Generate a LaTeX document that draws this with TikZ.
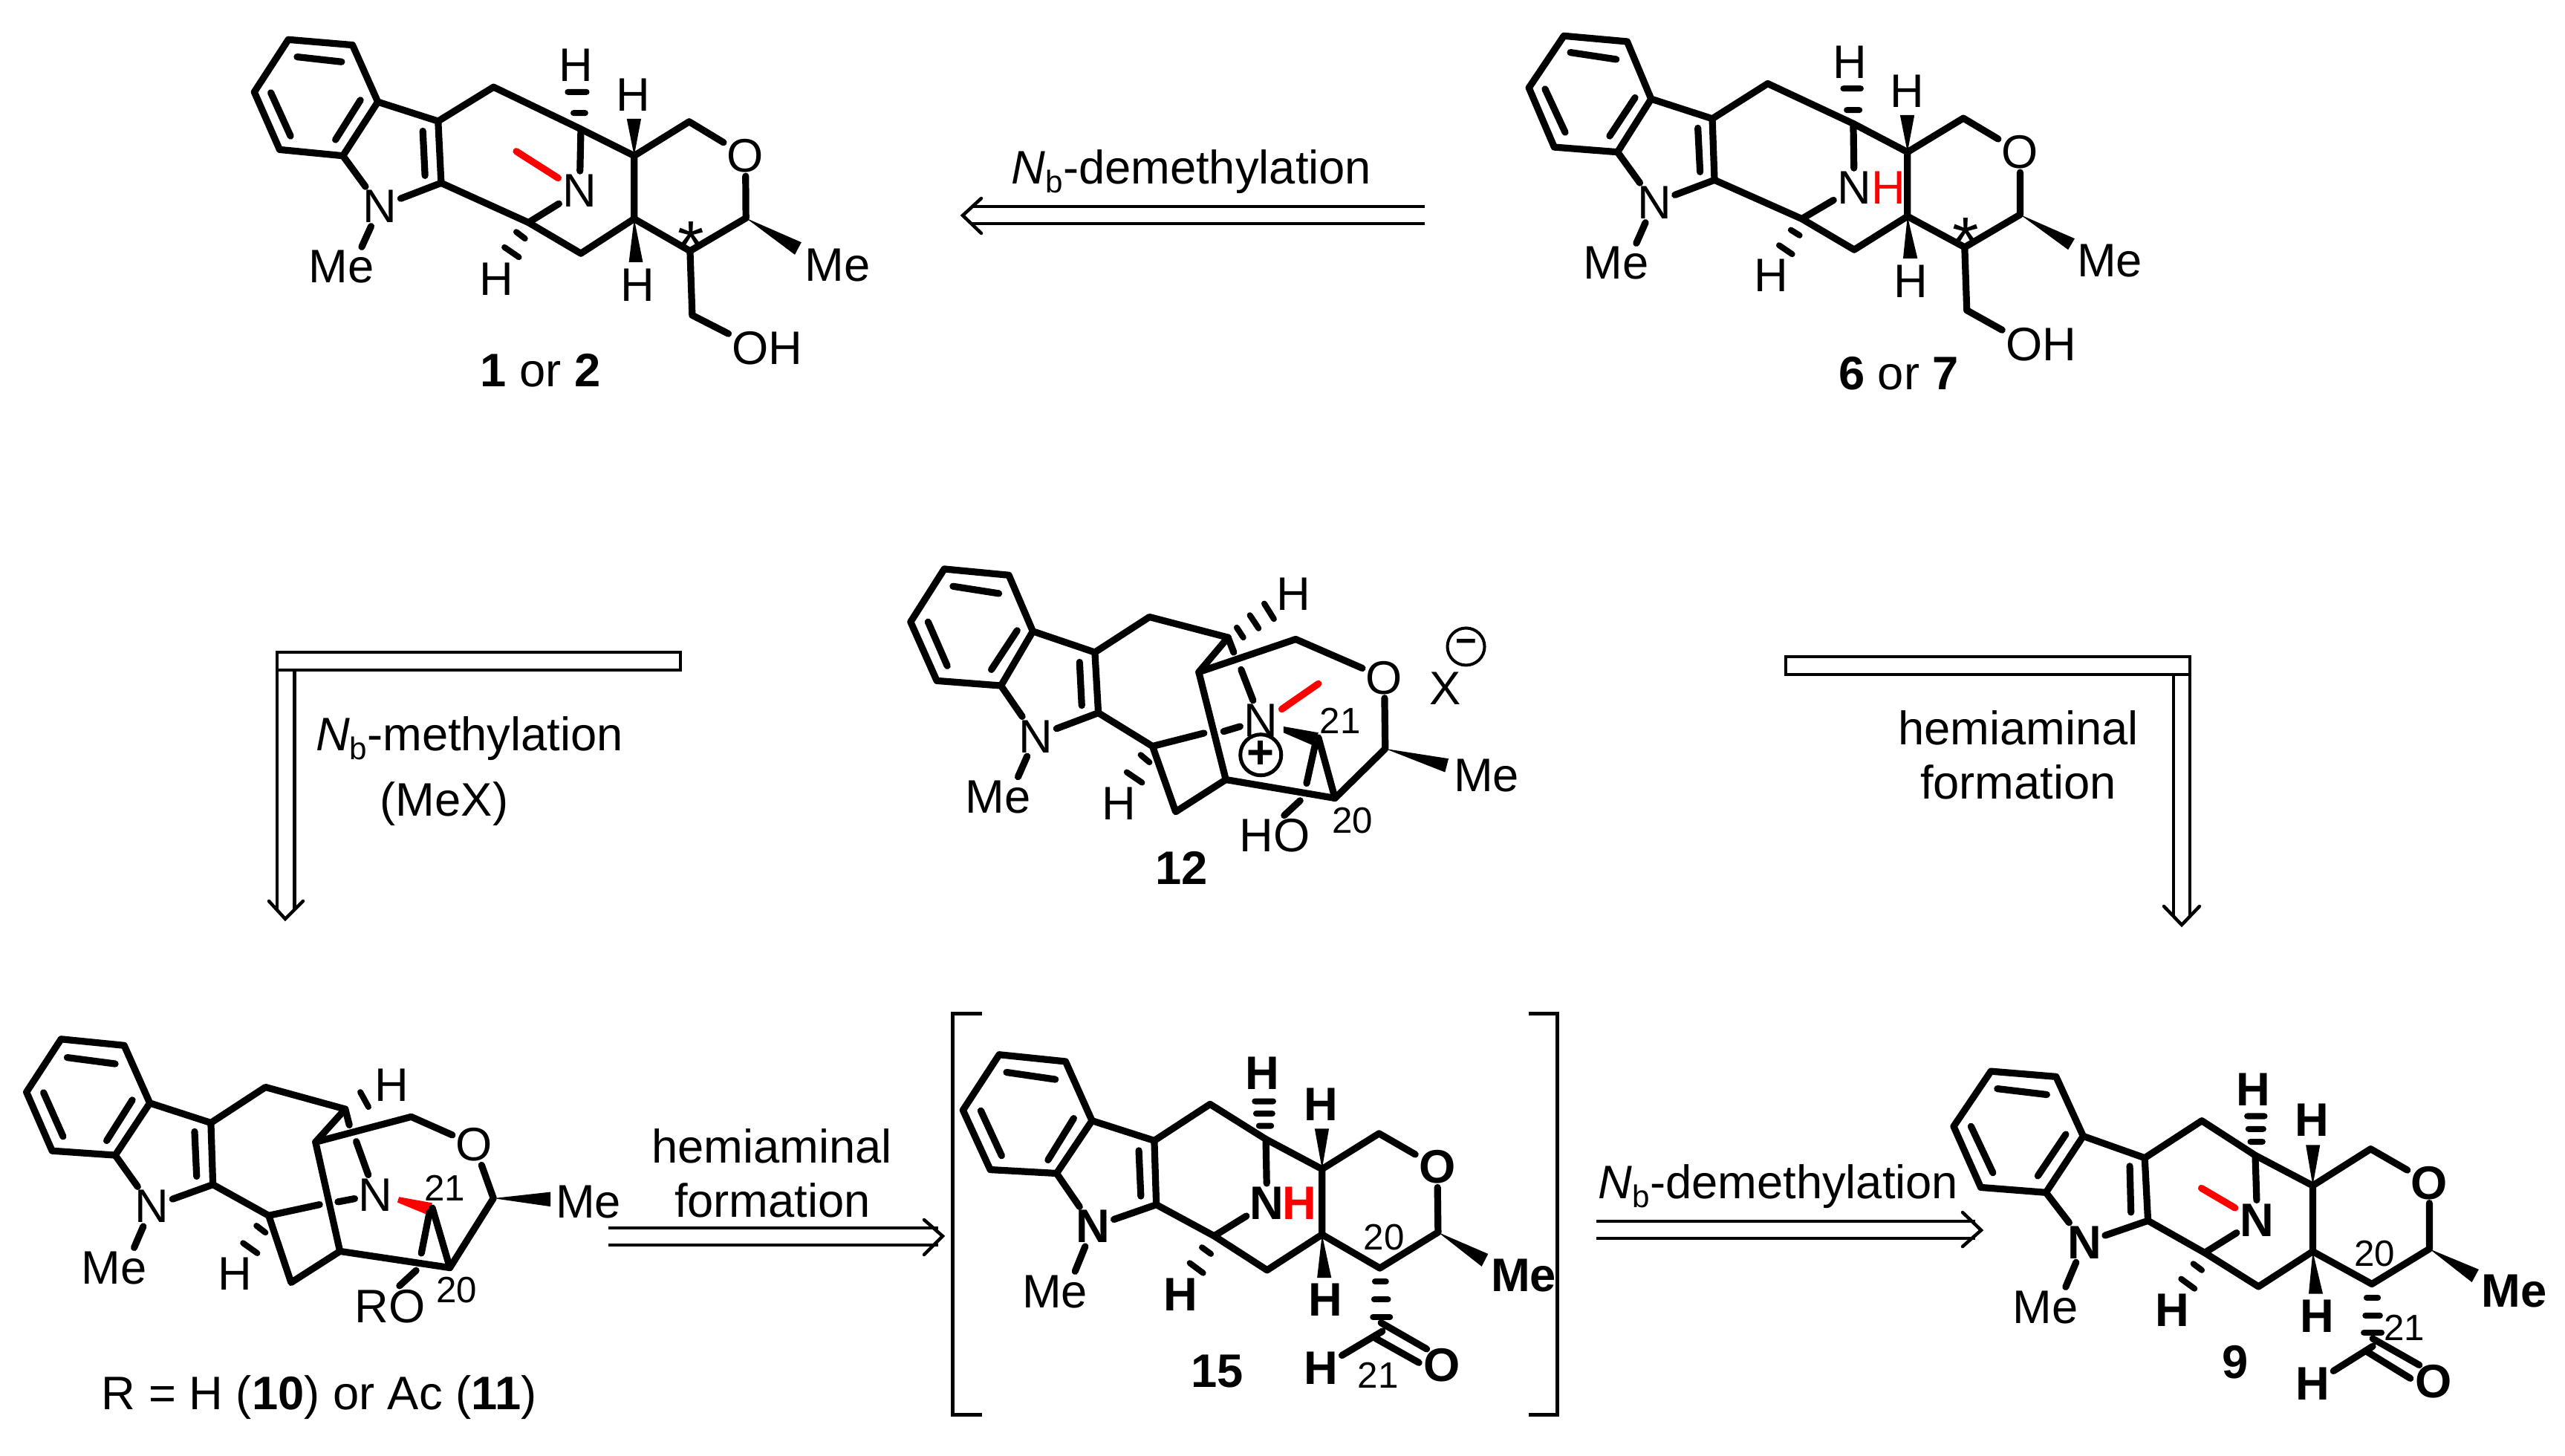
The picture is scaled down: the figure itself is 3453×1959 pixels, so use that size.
\documentclass[tikz,border=0pt]{standalone}
\usepackage{fontspec}
\setmainfont{Liberation Sans}
\newcommand{\subb}{\raisebox{-0.2em}{\fontsize{12}{12}\selectfont b}}
\tikzset{
bond/.style={line width=0.092cm,line cap=round,line join=round},
hashbar/.style={line width=0.08cm,line cap=round},
wedge/.style={fill=black,draw=none},
retro/.style={line width=0.045cm,line join=miter},
retrohead/.style={line width=0.045cm,line join=miter,line cap=round},
atom/.style={font=\fontsize{18}{20}\selectfont,inner sep=0pt,outer sep=0.05cm},
boldatom/.style={atom,font=\fontsize{18}{20}\selectfont\bfseries},
locant/.style={font=\fontsize{14}{16}\selectfont,inner sep=0pt},
starmark/.style={font=\fontsize{26}{26}\selectfont,inner sep=0pt,yshift=-1.9mm},
cmpd/.style={font=\fontsize{18}{20}\selectfont,inner sep=0pt},
rxn/.style={font=\fontsize{18}{20}\selectfont,inner sep=0pt,anchor=base},
mol/.style={shift={(#1)},x=0.005869cm,y=-0.003333cm},
molb/.style={shift={(#1)},x=0.005485cm,y=-0.0037cm},
mold/.style={shift={(#1)},x=0.005485cm,y=-0.003827cm},
molc/.style={shift={(#1)},x=0.00544cm,y=-0.003444cm},
}
\begin{document}
\begin{tikzpicture}[x=0.01cm,y=-0.01cm]
\useasboundingbox(0,0)rectangle(3453,1959);
\begin{scope}[mol={300,20}]
\node[atom](n1a)at(360,775){N};\node[atom](nba)at(817,712){N};\node[atom](oa)at(1197,570){O};
\node[atom](me1a)at(272,1020){Me};\node[atom](me2a)at(1408,1012){Me};\node[atom](oha)at(1247,1347){OH};
\node[atom](h1a)at(808,203){H};\node[atom](h2a)at(940,325){H};\node[atom](h3a)at(950,1093){H};\node[atom](h4a)at(627,1070){H};
\node[starmark](stara)at(1072,873){*};
\node[cmpd](cmpda)at(727,1437){\textbf{1} or \textbf{2}};
\draw[bond](150,100)--(297,122)--(355,352)--(275,570)--(130,545)--(72,312)--cycle;
\draw[bond](170,170)--(272,190)(110,315)--(155,490)(315,345)--(258,505);
\draw[bond](355,352)--(493,430)--(620,292)--(820,462)--(942,570)--(1068,432)--(oa);
\draw[bond](493,430)--(500,680)(458,470)--(463,650);
\draw[bond](275,570)--(n1a)(500,680)--(n1a)(n1a)--(me1a.45);
\draw[bond](500,680)--(700,840)--(820,965)--(942,825)--(1070,955)--(1198,822)--(oa);
\draw[bond](942,570)--(942,825)(820,462)--(nba)(700,840)--(nba);
\draw[bond,red](672,552)--(768,660);
\draw[bond](1070,955)--(1075,1215)--(oha.160);
\fill[wedge](942,570)--(925,420)--(958,420)--cycle(942,825)--(930,1000)--(962,1000)--cycle(1198,822)--(1325,920)--(1310,970)--cycle;
\draw[hashbar](803,397)--(830,397)(790,312)--(833,312)(672,878)--(692,905)(645,940)--(678,980);
\end{scope}
\begin{scope}[mol={2020,20}]
\node[atom](n1b)at(352,760){N};\node[atom](nbb)at(810,700){N};\node[atom,text=red,anchor=center](hnb)at(888,700){H};\node[atom](ob)at(1190,555){O};
\node[atom](me1b)at(265,1005){Me};\node[atom](me2b)at(1395,995){Me};\node[atom](ohb)at(1238,1332){OH};
\node[atom](h1b)at(800,190){H};\node[atom](h2b)at(932,310){H};\node[atom](h3b)at(940,1078){H};\node[atom](h4b)at(620,1053){H};
\node[starmark](starb)at(1065,860){*};
\node[cmpd](cmpdb)at(912,1450){\textbf{6} or \textbf{7}};
\draw[bond](145,85)--(290,108)--(345,340)--(268,555)--(123,535)--(65,295)--cycle;
\draw[bond](160,152)--(265,180)(102,300)--(148,475)(308,335)--(250,490);
\draw[bond](345,340)--(485,420)--(612,278)--(808,440)--(932,555)--(1060,418)--(ob);
\draw[bond](485,420)--(490,668)(452,458)--(457,635);
\draw[bond](268,555)--(n1b)(490,668)--(n1b)(n1b)--(me1b.45);
\draw[bond](490,668)--(690,825)--(810,950)--(932,815)--(1063,940)--(1190,808)--(ob);
\draw[bond](932,555)--(932,815)(808,440)--(nbb)(690,825)--(nbb);
\draw[bond](1063,940)--(1068,1195)--(ohb.160);
\fill[wedge](932,555)--(915,405)--(948,405)--cycle(932,815)--(922,985)--(955,985)--cycle(1190,808)--(1315,905)--(1300,950)--cycle;
\draw[hashbar](793,385)--(822,385)(785,298)--(825,298)(665,870)--(685,892)(638,932)--(668,968);
\end{scope}
\begin{scope}[mol={1180,730}]
\node[atom](n1c)at(365,785){N};\node[atom](nbc)at(880,720){N};\node[atom](oc)at(1163,548){O};
\node[atom](me1c)at(278,1030){Me};\node[atom](me2c)at(1397,945){Me};\node[atom](hoc)at(912,1187){HO};
\node[atom](xc)at(1302,590){X};\node[atom](h1c)at(955,208){H};\node[atom](h2c)at(556,1058){H};
\node[circle,draw,line width=0.05cm,minimum size=0.55cm,inner sep=0pt,font=\fontsize{18}{20}\selectfont\bfseries](plusc)at(880,860){+};
\node[circle,draw,line width=0.04cm,minimum size=0.5cm,inner sep=0pt,font=\fontsize{14}{16}\selectfont\bfseries](minusc)at(1350,422){\symbol{"2212}};
\node[locant](l21c)at(1062,722){21};\node[locant](l20c)at(1090,1125){20};
\node[cmpd,font=\fontsize{18}{20}\selectfont\bfseries](cmpdc)at(698,1318){12};
\draw[bond](155,108)--(303,133)--(358,360)--(285,580)--(138,560)--(78,322)--cycle;
\draw[bond](175,178)--(280,207)(118,322)--(162,500)(322,357)--(263,515);
\draw[bond](358,360)--(500,445)--(625,302)--(805,385)--(738,525)--(960,392)--(oc);
\draw[bond](738,525)--(800,960)--(1050,1035)--(1165,835)--(oc);
\draw[bond](500,445)--(508,690)(465,485)--(470,660);
\draw[bond](285,580)--(n1c)(508,690)--(n1c)(n1c)--(me1c.45);
\draw[bond](508,690)--(632,825)--(750,772)(795,765)--(nbc);
\draw[bond](632,825)--(685,1090)--(800,960);
\draw[bond](805,385)--(818,445)(835,515)--(nbc);
\draw[bond,red](1012,572)--(928,675);
\fill[wedge](932,745)--(1012,770)--(1000,822)--(932,770)--cycle(1165,835)--(1310,875)--(1302,930)--cycle;
\draw[bond](1012,790)--(1050,1035)(1005,815)--(985,975);
\draw[bond](970,1045)--(hoc.65);
\draw[hashbar](825,345)--(840,385)(855,295)--(875,348)(888,248)--(910,310)(605,860)--(625,890)(573,930)--(608,972);
\end{scope}
\begin{scope}[molb={0,1360}]
\node[atom](n1d)at(373,715){N};\node[atom](nbd)at(922,672){N};\node[atom](od)at(1165,490){O};
\node[atom](me1d)at(280,938){Me};\node[atom](me2d)at(1445,698){Me};\node[atom](rod)at(958,1078){RO};
\node[atom](h1d)at(962,273){H};\node[atom](h2d)at(577,960){H};
\node[locant](l21d)at(1092,648){21};\node[locant](l20d)at(1122,1020){20};
\node[cmpd](cmpdd)at(784,1411){R = H (\textbf{10}) or Ac (\textbf{11})};
\draw[bond](150,105)--(305,128)--(368,338)--(283,528)--(128,512)--(65,298)--cycle;
\draw[bond](165,172)--(283,195)(107,300)--(155,460)(325,327)--(262,475);
\draw[bond](368,338)--(518,410)--(652,280)--(848,360)--(775,480)--(1010,388)--(od);
\draw[bond](775,480)--(835,878)--(1105,938)--(1212,685)--(od);
\draw[bond](518,410)--(523,635)(478,442)--(483,605);
\draw[bond](283,528)--(n1d)(523,635)--(n1d)(n1d)--(me1d.45);
\draw[bond](523,635)--(660,748)--(785,708)(830,698)--(nbd);
\draw[bond](660,748)--(715,992)--(835,878);
\draw[bond](848,360)--(858,418)(875,478)--(nbd);
\fill[red](980,680)--(1062,702)--(1050,745)--(976,700)--cycle;
\fill[wedge](1212,685)--(1352,662)--(1352,715)--cycle;
\draw[bond](1062,720)--(1105,938)(1055,735)--(1035,885);
\draw[bond](1022,948)--(rod.65);
\draw[hashbar](885,298)--(905,352)(630,785)--(652,810)(597,848)--(632,885);
\end{scope}
\begin{scope}[mold={1270,1340}]
\node[boldatom](n1e)at(368,812){N};\node[boldatom](nbe)at(795,730){N};\node[boldatom,text=red](hne)at(875,730){H};\node[boldatom](oe)at(1213,603){O};
\node[atom](me1e)at(274,1040){Me};\node[boldatom](me2e)at(1425,985){Me};\node[boldatom](ocho)at(1225,1300){O};\node[boldatom](hcho)at(928,1308){H};
\node[boldatom](h1e)at(783,272){H};\node[boldatom](h2e)at(928,382){H};\node[boldatom](h3e)at(938,1070){H};\node[boldatom](h4e)at(583,1050){H};
\node[locant](l20e)at(1082,850){20};\node[locant](l21e)at(1068,1335){21};
\node[cmpd,font=\fontsize{18}{20}\selectfont\bfseries](cmpde)at(672,1320){15};
\draw[line width=0.05cm](95,65)--(22,65)--(22,1472)--(95,1472)(1437,65)--(1508,65)--(1508,1472)--(1437,1472);
\draw[bond](137,208)--(300,232)--(365,440)--(278,625)--(115,612)--(48,403)--cycle;
\draw[bond](155,270)--(275,295)(92,405)--(143,563)(320,432)--(257,578);
\draw[bond](365,440)--(518,510)--(655,382)--(792,505)--(930,610)--(1070,485)--(oe);
\draw[bond](518,510)--(523,735)(480,545)--(485,705);
\draw[bond](278,625)--(n1e)(523,735)--(n1e)(n1e)--(me1e.45);
\draw[bond](523,735)--(665,845)--(795,965)--(930,840)--(1072,958)--(1215,832)--(oe);
\draw[bond](930,610)--(930,840)(792,505)--(nbe)(665,845)--(nbe);
\fill[wedge](930,610)--(912,468)--(947,468)--cycle(930,840)--(918,992)--(953,992)--cycle(1215,832)--(1338,908)--(1322,952)--cycle;
\draw[hashbar](775,458)--(805,458)(768,415)--(808,415)(765,372)--(810,372)(635,885)--(657,908)(605,940)--(638,975);
\draw[hashbar](1060,1005)--(1087,1005)(1058,1068)--(1092,1068)(1055,1130)--(1097,1130);
\draw[bond](1078,1180)--(hcho)(1062,1205)--(1168,1290)(1075,1150)--(1187,1242);
\end{scope}
\begin{scope}[molc={2600,1400}]
\node[boldatom](n1f)at(378,790){N};\node[boldatom](nbf)at(805,702){N};\node[boldatom](of)at(1230,557){O};
\node[atom](me1f)at(282,1042){Me};\node[boldatom](me2f)at(1440,980){Me};\node[boldatom](ochof)at(1240,1332){O};\node[boldatom](hchof)at(942,1342){H};
\node[boldatom](h1f)at(795,192){H};\node[boldatom](h2f)at(940,313){H};\node[boldatom](h3f)at(952,1078){H};\node[boldatom](h4f)at(595,1055){H};
\node[locant](l20f)at(1095,832){20};\node[locant](l21f)at(1168,1122){21};
\node[cmpd,font=\fontsize{18}{20}\selectfont\bfseries](cmpdf)at(750,1257){9};
\draw[bond](147,122)--(308,143)--(375,375)--(283,595)--(122,575)--(55,337)--cycle;
\draw[bond](163,190)--(285,213)(98,337)--(152,518)(332,368)--(263,530);
\draw[bond](375,375)--(527,460)--(668,315)--(800,450)--(942,568)--(1085,425)--(of);
\draw[bond](527,460)--(535,705)(490,492)--(493,672);
\draw[bond](283,595)--(n1f)(535,705)--(n1f)(n1f)--(me1f.45);
\draw[bond](535,705)--(675,830)--(808,962)--(942,825)--(1088,952)--(1230,815)--(of);
\draw[bond](942,568)--(942,825)(800,450)--(nbf)(675,830)--(nbf);
\draw[bond,red](667,578)--(750,655);
\fill[wedge](942,568)--(925,410)--(960,410)--cycle(942,825)--(932,990)--(967,990)--cycle(1230,815)--(1352,895)--(1335,945)--cycle;
\draw[hashbar](788,397)--(818,397)(783,347)--(820,347)(780,297)--(823,297)(647,873)--(668,898)(617,932)--(650,970);
\draw[hashbar](1075,1005)--(1103,1005)(1072,1075)--(1108,1075)(1068,1142)--(1112,1142);
\draw[bond](1090,1195)--(hchof)(1075,1215)--(1183,1320)(1090,1165)--(1205,1268);
\end{scope}
\draw[retro](1918,278)--(1309,278)(1918,301)--(1309,301);
\draw[retrohead](1321,267)--(1296,290)--(1321,314);
\node[rxn](rxna)at(1604,247){{\itshape N}\subb-demethylation};
\draw[retro](916,878)rectangle(373,902)(373,902)--(373,1225)(396.5,902)--(396.5,1225);
\draw[retrohead](362,1213)--(384,1237)--(408,1213);
\node[rxn](rxnb)at(632,1010){{\itshape N}\subb-methylation};
\node[rxn](rxnc)at(598,1098){(MeX)};
\draw[retro](2404,884)rectangle(2948,908)(2926,908)--(2926,1235)(2948,908)--(2948,1235);
\draw[retrohead](2913,1220)--(2937,1245)--(2961,1220);
\node[rxn](rxnd)at(2717,1002){hemiaminal};
\node[rxn](rxne)at(2717,1075){formation};
\draw[retro](819,1653)--(1263,1653)(819,1676)--(1263,1676);
\draw[retrohead](1244,1642)--(1269,1664)--(1244,1689);
\node[rxn](rxnf)at(1039,1565){hemiaminal};
\node[rxn](rxng)at(1040,1638){formation};
\draw[retro](2149,1644)--(2659,1644)(2149,1667)--(2659,1667);
\draw[retrohead](2642,1632)--(2667,1656)--(2642,1678);
\node[rxn](rxnh)at(2394,1613){{\itshape N}\subb-demethylation};
\end{tikzpicture}
\end{document}
